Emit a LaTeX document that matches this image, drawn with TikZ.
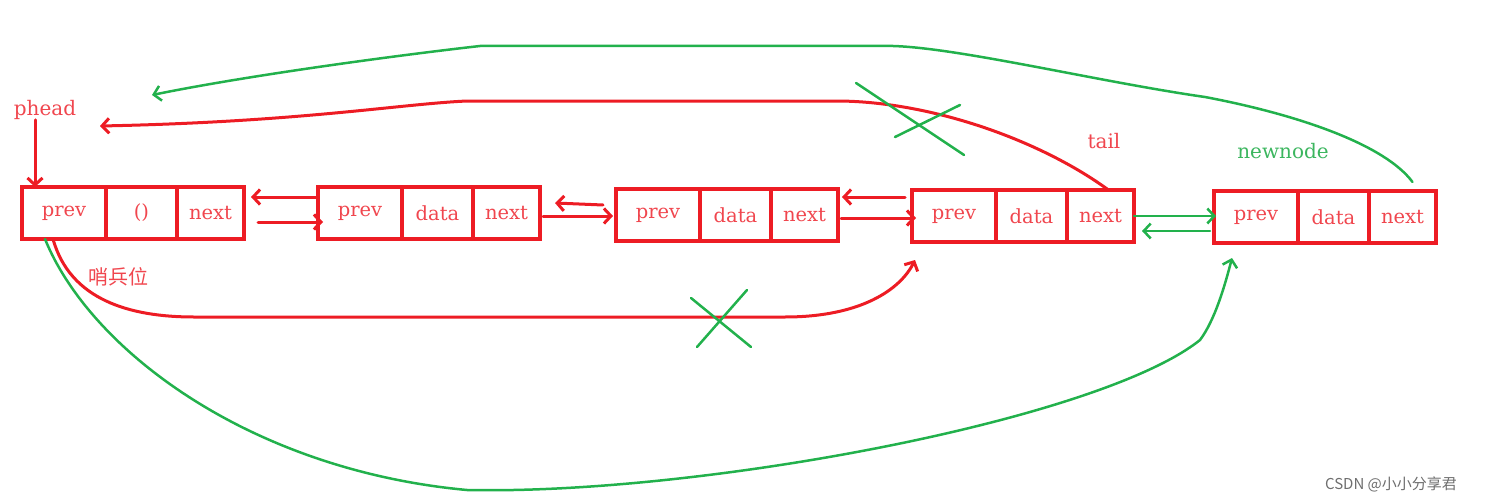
\documentclass[tikz,border=0pt]{standalone}
\usepackage{fontspec}
\setmainfont{DejaVu Serif}
\newfontfamily\cjkfont{Noto Sans CJK SC}
\usetikzlibrary{arrows.meta, positioning}
\definecolor{paintred}{RGB}{237,28,36}
\definecolor{paintgreen}{RGB}{34,177,76}
\definecolor{labred}{RGB}{240,70,78}
\definecolor{labgreen}{RGB}{60,182,95}
\definecolor{markgray}{RGB}{110,110,110}

\begin{document}
\begin{tikzpicture}[x=1pt, y=-1pt,
  node distance=0pt,
  cell/.style={rectangle, draw=paintred, line width=4pt, minimum height=52pt,
               inner sep=0pt, outer sep=0pt, text=labred, font=\fontsize{19.5}{23}\selectfont},
  prevcell/.style={cell, minimum width=84pt},
  datacell/.style={cell, minimum width=71pt},
  nextcell/.style={cell, minimum width=67pt},
  redarr/.style={-{Straight Barb[length=7pt,width=15pt]}, line width=3pt, paintred,
                 line join=round, line cap=round},
  greenarr/.style={-{Straight Barb[length=7pt,width=15pt]}, line width=2.5pt, paintgreen,
                   line join=round, line cap=round},
  cross/.style={line width=2.5pt, paintgreen, line cap=round},
  lab/.style={inner sep=0pt, font=\fontsize{20}{24}\selectfont},
]
\useasboundingbox (0,0) rectangle (1492,503);

% sentinel node
\node[prevcell] (n0p) at (64,213) {prev};
\node[datacell, right=of n0p] (n0d) {()};
\node[nextcell, right=of n0d] (n0n) {next};
% data nodes
\node[prevcell] (n1p) at (360,213) {prev};
\node[datacell, right=of n1p] (n1d) {data};
\node[nextcell, right=of n1d] (n1n) {next};
\node[prevcell] (n2p) at (658,215) {prev};
\node[datacell, right=of n2p] (n2d) {data};
\node[nextcell, right=of n2d] (n2n) {next};
\node[prevcell] (n3p) at (954,216) {prev};
\node[datacell, right=of n3p] (n3d) {data};
\node[nextcell, right=of n3d] (n3n) {next};
% new node
\node[prevcell] (n4p) at (1256,217) {prev};
\node[datacell, right=of n4p] (n4d) {data};
\node[nextcell, right=of n4d] (n4n) {next};

% labels
\node[lab, text=labred] (phead) at (45,110) {phead};
\node[lab, text=labred] (tail) at (1104,141) {tail};
\node[lab, text=labgreen] (newnode) at (1283,151) {newnode};
\node[lab, text=labred, font=\cjkfont\fontsize{20}{24}\selectfont] (guard) at (118,277) {哨兵位};
\node[inner sep=0pt, text=markgray, font=\cjkfont\fontsize{15}{18}\selectfont] (mark) at (1391,484) {CSDN @小小分享君};

\coordinate (headin) at (100,126);
\coordinate (greenin) at (152,95);
\coordinate (tailin) at (915,260);
\coordinate (newin) at (1232,258);

\draw[redarr] ([xshift=-10pt]phead.south) -- ([xshift=-10pt]phead.south |- n0p.north);

% prev / next links
\draw[redarr] ([yshift=16pt]n1p.west) -- ([yshift=16pt,xshift=7pt]n0n.east);
\draw[redarr] ([yshift=-9pt,xshift=14pt]n0n.east) -- ([yshift=-9pt,xshift=5pt]n1p.west);
\draw[redarr] ([yshift=10pt,xshift=-13pt]n2p.west) -- ([yshift=10pt,xshift=15pt]n1n.east);
\draw[redarr] ([yshift=-3pt,xshift=3pt]n1n.east) -- ([yshift=-1pt,xshift=-3pt]n2p.west);
\draw[redarr] ([yshift=19pt,xshift=-7pt]n3p.west) -- ([yshift=18pt,xshift=4pt]n2n.east);
\draw[redarr] ([yshift=-3pt,xshift=3pt]n2n.east) -- ([yshift=-2pt,xshift=4pt]n3p.west);
\draw[greenarr] (n3n.east) -- ([yshift=1pt,xshift=2pt]n4p.west);
\draw[greenarr] ([yshift=-14pt,xshift=-4pt]n4p.west) -- ([yshift=-15pt,xshift=8pt]n3n.east);

% old links
\draw[redarr] ([xshift=8pt]n3n.north) .. controls (1040,140) and (930,101) .. (836,101)
  -- (467,101) .. controls (400,104) and (300,122) .. (headin);
\draw[redarr] ([xshift=-11pt]n0p.south) .. controls (70,300) and (130,317) .. (194,317)
  -- (785,317) .. controls (860,317) and (900,290) .. (tailin);

% new links
\draw[greenarr] ([xshift=10pt,yshift=9pt]n4n.north) .. controls (1385,145) and (1300,115) .. (1205,97)
  .. controls (1100,82) and (960,48) .. (893,46)
  -- (480,46) .. controls (400,55) and (250,75) .. (greenin);
\draw[greenarr] ([xshift=-19pt]n0p.south) .. controls (90,350) and (250,470) .. (467,490)
  .. controls (700,495) and (1100,420) .. (1200,340)
  .. controls (1215,320) and (1225,285) .. (newin);

% crossed out
\draw[cross] (856,83) -- (964,155);
\draw[cross] (895,137) -- (960,105);
\draw[cross] (691,298) -- (751,347);
\draw[cross] (747,290) -- (697,347);
\end{tikzpicture}
\end{document}
